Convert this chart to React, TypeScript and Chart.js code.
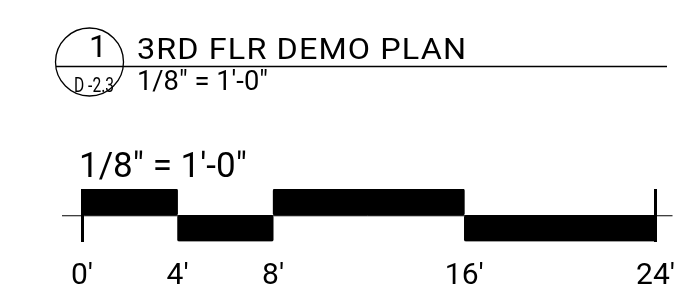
import React, { useEffect, useRef } from "react";
import { Chart, registerables } from "chart.js";

Chart.register(...registerables);

const rows = ["upper", "lower"];
const tickValues = [0, 4, 8, 16, 24];
const firstBlack = [[0, 4], [4, 8]];
const secondBlack = [[8, 16], [16, 24]];
const drawingNumber = "1";
const sheetNumber = "D -2.3";
const drawingTitle = "3RD FLR DEMO PLAN";
const scaleText = "1/8\" = 1'-0\"";

const FONT = "Roboto";

function fitText(ctx: any, text: string, x: number, y: number, width: number, spacing: number) {
  ctx.save();
  ctx.letterSpacing = `${spacing}px`;
  const w = ctx.measureText(text).width - spacing;
  ctx.translate(x, y);
  ctx.scale(width / w, 1);
  ctx.fillText(text, 0, 0);
  ctx.restore();
}

const titlePlugin = {
  id: "titleBlock",
  afterDraw(chart: any) {
    const ctx = chart.ctx;
    const x = chart.scales.x;
    const y = chart.scales.y;
    ctx.save();
    const midY = (y.getPixelForValue(0) + y.getPixelForValue(1)) / 2;
    ctx.strokeStyle = "#000";
    ctx.lineWidth = 1;
    ctx.beginPath();
    ctx.moveTo(x.getPixelForValue(0) - 20, midY + 0.5);
    ctx.lineTo(x.getPixelForValue(24) + 17, midY + 0.5);
    ctx.stroke();

    ctx.lineWidth = 1.3;
    ctx.beginPath();
    ctx.arc(89.5, 62, 34, 0, Math.PI * 2);
    ctx.stroke();
    ctx.beginPath();
    ctx.moveTo(56, 66.5);
    ctx.lineTo(667, 66.5);
    ctx.stroke();

    ctx.fillStyle = "#000";
    ctx.textBaseline = "alphabetic";
    ctx.textAlign = "left";
    ctx.font = `400 32px ${FONT}`;
    ctx.fillText(drawingNumber, 89, 57);
    ctx.font = `400 21px ${FONT}`;
    fitText(ctx, sheetNumber, 74, 92, 40, 0);
    ctx.font = `400 29px ${FONT}`;
    fitText(ctx, drawingTitle, 137, 59, 329, 1);
    ctx.font = `400 27px ${FONT}`;
    fitText(ctx, scaleText, 137, 90, 131, 0);
    ctx.font = `400 35px ${FONT}`;
    ctx.fillText(scaleText, 79, 177);
    ctx.restore();
  },
};

export default function App() {
  const ref = useRef<HTMLCanvasElement>(null);
  useEffect(() => {
    const chart = new Chart(ref.current!, {
      type: "bar",
      data: {
        labels: rows,
        datasets: [
          { data: firstBlack as any, backgroundColor: "#000", borderWidth: 0, borderRadius: 2, borderSkipped: false },
          { data: secondBlack as any, backgroundColor: "#000", borderWidth: 0, borderRadius: 2, borderSkipped: false },
        ],
      },
      options: {
        indexAxis: "y",
        animation: false,
        responsive: false,
        devicePixelRatio: 1,
        layout: { padding: { left: 82, right: 31, top: 189, bottom: 11 } },
        plugins: { legend: { display: false }, tooltip: { enabled: false } },
        datasets: { bar: { grouped: false, barPercentage: 1, categoryPercentage: 1 } },
        scales: {
          x: {
            type: "linear",
            min: 0,
            max: 24,
            afterBuildTicks: (s: any) => {
              s.ticks = tickValues.map((v) => ({ value: v }));
            },
            grid: {
              drawTicks: false,
              lineWidth: 3,
              color: (c: any) =>
                c.tick && (c.tick.value === 0 || c.tick.value === 24) ? "#000" : "rgba(0,0,0,0)",
            },
            border: { display: false },
            ticks: {
              padding: 17,
              color: "#000",
              font: { family: FONT, size: 30, weight: "400" as any },
              callback: (v: any) => `${v}'`,
              maxRotation: 0,
              autoSkip: false,
            },
          },
          y: { display: false },
        },
      },
      plugins: [titlePlugin],
    });
    return () => chart.destroy();
  }, []);
  return (
    <div style={{ position: "fixed", left: 0, top: 0, width: 692, height: 305, background: "#fff" }}>
      <canvas ref={ref} width={692} height={305} style={{ display: "block" }} />
    </div>
  );
}
